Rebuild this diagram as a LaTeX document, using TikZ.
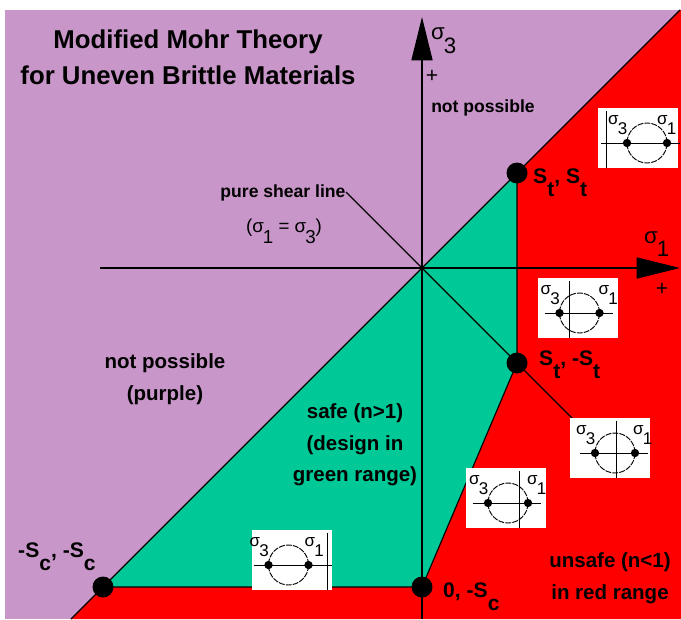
\documentclass[tikz,border=0pt]{standalone}
\usepackage{fontspec}
\setmainfont{Liberation Sans}
\usepackage{xcolor}
\usepackage{tikz}
\usetikzlibrary{arrows.meta,positioning,calc}
\definecolor{mohrpurple}{RGB}{200,150,200}
\definecolor{mohrgreen}{RGB}{0,200,150}
\definecolor{mohrred}{RGB}{255,0,0}
\tikzset{
  bnd/.style={line width=1pt, draw=black},
  axisline/.style={line width=1pt, -{Triangle[length=37pt, width=18pt]}},
  bigdot/.style={circle, fill=black, minimum size=0.63cm, inner sep=0pt},
  smalldot/.style={circle, fill=black, minimum size=0.25cm, inner sep=0pt},
  insetbox/.style={fill=white, minimum width=2.4cm, minimum height=1.8cm, inner sep=0pt},
  lbl/.style={font=\fontsize{15}{27}\selectfont\bfseries, align=center, inner sep=0pt},
  biglbl/.style={lbl, font=\fontsize{17.5}{27}\selectfont\bfseries},
  ptlbl/.style={font=\fontsize{18}{18}\selectfont\bfseries, anchor=base west, inner sep=0pt},
  sglbl/.style={font=\fontsize{14.5}{14.5}\selectfont, anchor=base west, inner sep=0pt},
  axlbl/.style={font=\fontsize{19}{19}\selectfont, anchor=base west, inner sep=0pt},
  pluslbl/.style={font=\fontsize{18}{18}\selectfont, inner sep=0pt},
}
\newcommand{\sg}[1]{σ\kern-0.05em\raisebox{-0.6em}{#1}}
\newcommand{\lo}[1]{\raisebox{-0.65em}{#1}}
\newcommand{\mohrinset}[6]{%
  \begin{scope}[shift={(#2,#3)}]
    \node[insetbox, anchor=north west] (#1box) at (0,0) {};
    \draw[line width=0.8pt] ({min(#4-35,#5-5)},35) -- ({max(#4+33,#5+5)},35);
    \draw[line width=0.8pt] (#5,3) -- (#5,60);
    \draw[line width=0.8pt, dash pattern=on 5pt off 1pt] (#4,35) circle[radius=0.6cm];
    \node[smalldot] (#1l) at (#4-20,35) {};
    \node[smalldot] (#1r) at (#4+20,35) {};
    \node[sglbl] (#1s3) at (#4-39,16) {\sg{3}};
    \node[sglbl] (#1s1) at (#4+#6,16) {\sg{1}};
  \end{scope}}

\begin{document}
\begin{tikzpicture}[x=0.03cm, y=-0.03cm]
  \useasboundingbox (0,0) rectangle (681,619);
  \coordinate (O) at (422,268);
  \coordinate (A) at (517,173);
  \coordinate (B) at (517,363);
  \coordinate (C) at (422,587);
  \coordinate (D) at (103,587);
  \coordinate (dl) at (71,619);
  \coordinate (dr) at (680,10);
  \coordinate (psl) at (346,192);
  \coordinate (ldr) at (574,420);

  \fill[mohrpurple] (5,10) rectangle (681,619);
  \fill[mohrred] (dl) -- (dr) -- (681,10) -- (681,619) -- cycle;
  \fill[mohrgreen] (D) -- (A) -- (B) -- (C) -- cycle;

  \draw[bnd] (dl) -- (dr);
  \draw[bnd] (A) -- (B) -- (C) -- (D);
  \draw[bnd] (psl) -- (ldr);
  \draw[axisline] (422,619) coordinate (s3a) -- (422,17) coordinate (s3b);
  \draw[axisline] (100,268) coordinate (s1a) -- (680,268) coordinate (s1b);

  \node[bigdot] (Adot) at (A) {};
  \node[bigdot] (Bdot) at (B) {};
  \node[bigdot] (Cdot) at (C) {};
  \node[bigdot] (Ddot) at (D) {};

  \foreach \nm/\bx/\by/\cx/\ax/\sx in {i1/598/108/49/8/10, i2/538/278/41.5/31/19,
                                       i3/570/418/45/46/18, i4/466/468/42/53/19,
                                       i5/252/530/36.5/75/16} {
    \mohrinset{\nm}{\bx}{\by}{\cx}{\ax}{\sx}
  }

  \node[lbl, font=\fontsize{22}{31}\selectfont\bfseries] (title) at (188,57)
    {Modified Mohr Theory\\for Uneven Brittle Materials};
  \node[lbl] (npTop) at (483,108) {not possible};
  \node[lbl] (psLine) at (283,193) {pure shear line};
  \node[lbl, font=\fontsize{16}{16}\selectfont, anchor=base] (psEq) at (284,232)
    {(\sg{1} = \sg{3})};
  \node[biglbl] (npLeft) at (165,379) {not possible\\(purple)};
  \node[biglbl] (safe) at (355,445) {safe (n>1)\\(design in\\green range)};
  \node[biglbl] (unsafe) at (610,578) {unsafe (n<1)\\in red range};

  \node[ptlbl] (Albl) at (533,183) {S\lo{t}, S\lo{t}};
  \node[ptlbl] (Blbl) at (539,365) {S\lo{t}, -S\lo{t}};
  \node[ptlbl] (Clbl) at (443,597) {0, -S\lo{c}};
  \node[ptlbl] (Dlbl) at (18,557) {-S\lo{c}, -S\lo{c}};

  \node[axlbl] (s3lbl) at (431,40) {\sg{3}};
  \node[axlbl] (s1lbl) at (644,243) {\sg{1}};
  \node[pluslbl] (s3plus) at (432,76) {+};
  \node[pluslbl] (s1plus) at (662,289) {+};
\end{tikzpicture}
\end{document}
